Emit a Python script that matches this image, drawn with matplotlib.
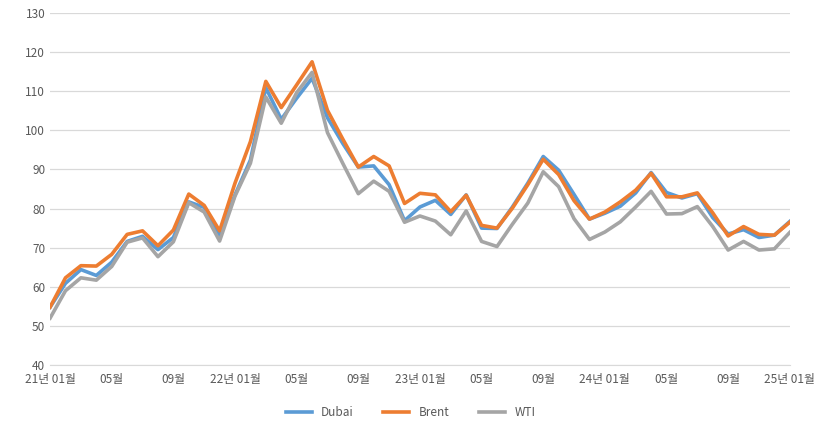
import matplotlib
matplotlib.use("Agg")
import matplotlib.pyplot as plt

plt.rcParams["font.family"] = "Noto Sans CJK KR"

dubai = [54.8, 60.9, 64.4, 62.9, 66.3, 71.6, 72.9, 69.5, 72.6, 81.7, 80.3, 73.2,
         83.5, 92.4, 110.9, 102.8, 108.2, 113.3, 103.2, 96.6, 90.6, 90.9, 86.1, 76.9,
         80.4, 82.1, 78.5, 83.5, 75.0, 74.9, 80.4, 86.5, 93.3, 89.8, 83.6, 77.3,
         78.8, 80.6, 84.0, 89.2, 84.1, 82.7, 83.8, 77.7, 73.5, 74.6, 72.6, 73.2, 76.7]
brent = [54.8, 62.3, 65.4, 65.3, 68.3, 73.4, 74.3, 70.5, 74.5, 83.7, 80.8, 74.3,
         86.5, 97.1, 112.5, 105.8, 111.6, 117.5, 105.1, 97.7, 90.6, 93.3, 90.9, 81.3,
         83.9, 83.5, 79.2, 83.4, 75.7, 75.0, 80.1, 86.1, 92.6, 88.7, 82.0, 77.3,
         79.1, 81.7, 84.7, 89.0, 83.0, 83.0, 84.0, 78.9, 73.0, 75.4, 73.4, 73.2, 76.5]
wti = [52.0, 59.0, 62.3, 61.7, 65.2, 71.4, 72.5, 67.7, 71.5, 81.5, 79.1, 71.7,
       83.2, 91.6, 108.5, 101.8, 109.6, 114.8, 99.4, 91.5, 83.8, 87.0, 84.4, 76.5,
       78.1, 76.8, 73.3, 79.4, 71.6, 70.3, 76.0, 81.4, 89.4, 85.6, 77.4, 72.1,
       74.0, 76.6, 80.4, 84.4, 78.6, 78.7, 80.5, 75.4, 69.4, 71.6, 69.4, 69.7, 73.9]
tick_labels = ["21년 01월", "05월", "09월", "22년 01월", "05월", "09월", "23년 01월",
               "05월", "09월", "24년 01월", "05월", "09월", "25년 01월"]

x = list(range(len(dubai)))
fig = plt.figure(figsize=(8.21, 4.3), dpi=100)
ax = fig.add_axes([0.061, 0.151, 0.901, 0.819])
ax.plot(x, dubai, color="#5B9BD5", lw=2.6, label="Dubai")
ax.plot(x, brent, color="#ED7D31", lw=2.6, label="Brent")
ax.plot(x, wti, color="#A5A5A5", lw=2.6, label="WTI")
ax.set_ylim(40, 130)
ax.set_yticks(range(40, 131, 10))
ax.set_xlim(0, 48)
ax.set_xticks(range(0, 49, 4))
ax.set_xticklabels(tick_labels)
ax.grid(axis="y", color="#D9D9D9", lw=0.9)
ax.set_axisbelow(True)
for s in ["top", "right", "left"]:
    ax.spines[s].set_visible(False)
ax.spines["bottom"].set_color("#D9D9D9")
ax.tick_params(length=0, labelsize=8.5, colors="#595959")
ax.tick_params(axis="x", pad=6)
fig.legend(loc="lower center", bbox_to_anchor=(0.5, 0.0), ncol=3, frameon=False,
           fontsize=8.5, handlelength=2.2, columnspacing=2.5, labelcolor="#595959")
fig.savefig("out.png", dpi=100)
